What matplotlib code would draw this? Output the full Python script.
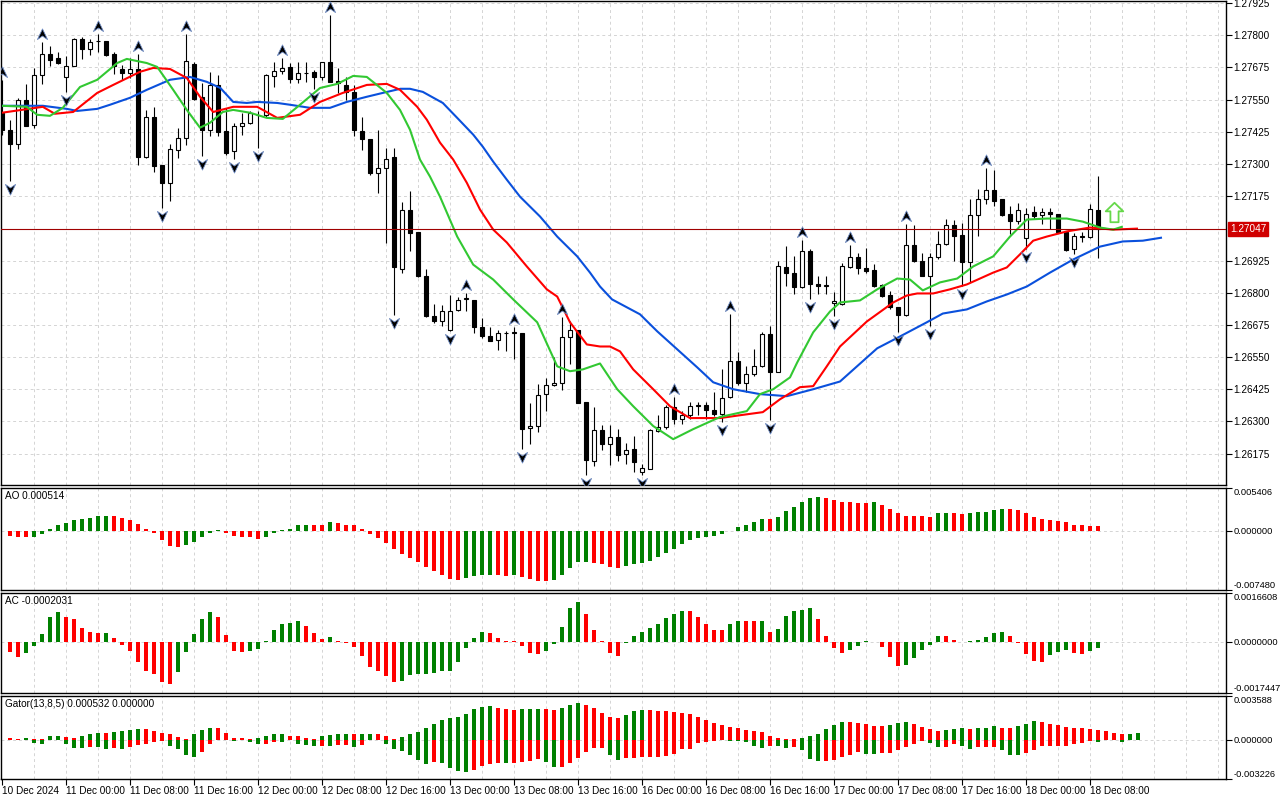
import matplotlib

matplotlib.use("Agg")

import matplotlib.pyplot as plt
import numpy as np
from matplotlib.path import Path
from matplotlib.transforms import offset_copy

plt.rcParams["font.family"] = ["Liberation Sans", "DejaVu Sans"]

# ---------------------------------------------------------------------------
# Datos (H1, 10 Dec 2024 16:00 .. 18 Dec 2024 09:00)
# ---------------------------------------------------------------------------

opens = [
    1.27499, 1.27433, 1.27377, 1.27549, 1.27451, 1.27644, 1.27727, 1.27710, 1.27636, 1.27681,
    1.27787, 1.27745, 1.27776, 1.27777, 1.27727, 1.27669, 1.27652, 1.27669, 1.27326, 1.27482,
    1.27295, 1.27226, 1.27355, 1.27400, 1.27688, 1.27562, 1.27433, 1.27607, 1.27429, 1.27349,
    1.27448, 1.27458, 1.27489, 1.27489, 1.27641, 1.27662, 1.27675, 1.27629, 1.27652, 1.27658,
    1.27636, 1.27696, 1.27622, 1.27607, 1.27581, 1.27429, 1.27397, 1.27265, 1.27284, 1.27327,
    1.26893, 1.27123, 1.27034, 1.26863, 1.26708, 1.26689, 1.26657, 1.26734, 1.26775, 1.26770,
    1.26666, 1.26631, 1.26615, 1.26643, 1.26645, 1.26644, 1.26274, 1.26283, 1.26408, 1.26440,
    1.26450, 1.26627, 1.26654, 1.26377, 1.26148, 1.26268, 1.26214, 1.26239, 1.26175, 1.26194,
    1.26104, 1.26117, 1.26262, 1.26278, 1.26355, 1.26310, 1.26323, 1.26360, 1.26362, 1.26345,
    1.26330, 1.26394, 1.26536, 1.26448, 1.26484, 1.26514, 1.26639, 1.26493, 1.26900, 1.26875,
    1.26823, 1.26961, 1.26835, 1.26827, 1.26759, 1.26756, 1.26898, 1.26940, 1.26895, 1.26888,
    1.26830, 1.26791, 1.26743, 1.26714, 1.26984, 1.26924, 1.26866, 1.26940, 1.26991, 1.27062,
    1.27023, 1.26920, 1.27100, 1.27162, 1.27197, 1.27162, 1.27104, 1.27078, 1.27012, 1.27113,
    1.27100, 1.27113, 1.27104, 1.27036, 1.26969, 1.27018, 1.27016, 1.27123,
]
highs = [
    1.27627, 1.27471, 1.27558, 1.27611, 1.27671, 1.27774, 1.27757, 1.27736, 1.27719, 1.27790,
    1.27794, 1.27787, 1.27806, 1.27779, 1.27736, 1.27684, 1.27710, 1.27727, 1.27510, 1.27520,
    1.27297, 1.27378, 1.27439, 1.27806, 1.27697, 1.27613, 1.27658, 1.27645, 1.27519, 1.27458,
    1.27497, 1.27504, 1.27504, 1.27649, 1.27697, 1.27710, 1.27693, 1.27697, 1.27697, 1.27665,
    1.27697, 1.27880, 1.27671, 1.27639, 1.27607, 1.27484, 1.27397, 1.27433, 1.27362, 1.27362,
    1.27153, 1.27196, 1.27037, 1.26891, 1.26756, 1.26751, 1.26790, 1.26782, 1.26799, 1.26773,
    1.26702, 1.26666, 1.26657, 1.26653, 1.26666, 1.26644, 1.26373, 1.26444, 1.26470, 1.26551,
    1.26705, 1.26690, 1.26657, 1.26377, 1.26356, 1.26287, 1.26287, 1.26271, 1.26217, 1.26243,
    1.26136, 1.26271, 1.26323, 1.26364, 1.26394, 1.26339, 1.26377, 1.26377, 1.26375, 1.26416,
    1.26504, 1.26716, 1.26571, 1.26516, 1.26581, 1.26648, 1.26669, 1.26922, 1.26980, 1.26944,
    1.27006, 1.26968, 1.26864, 1.26864, 1.26804, 1.26917, 1.26984, 1.26956, 1.26975, 1.26911,
    1.26833, 1.26808, 1.26746, 1.27065, 1.27062, 1.26956, 1.26956, 1.27040, 1.27085, 1.27082,
    1.27072, 1.27162, 1.27201, 1.27285, 1.27278, 1.27165, 1.27136, 1.27149, 1.27130, 1.27136,
    1.27130, 1.27130, 1.27104, 1.27036, 1.27031, 1.27036, 1.27143, 1.27255,
]
lows = [
    1.27414, 1.27233, 1.27358, 1.27446, 1.27439, 1.27609, 1.27680, 1.27687, 1.27581, 1.27679,
    1.27706, 1.27723, 1.27733, 1.27720, 1.27649, 1.27626, 1.27632, 1.27297, 1.27323, 1.27268,
    1.27130, 1.27156, 1.27323, 1.27372, 1.27549, 1.27330, 1.27407, 1.27407, 1.27336, 1.27319,
    1.27413, 1.27455, 1.27362, 1.27484, 1.27600, 1.27649, 1.27613, 1.27613, 1.27620, 1.27590,
    1.27626, 1.27620, 1.27574, 1.27549, 1.27407, 1.27355, 1.27259, 1.27188, 1.26994, 1.26715,
    1.26876, 1.26962, 1.26860, 1.26704, 1.26682, 1.26670, 1.26650, 1.26730, 1.26730, 1.26644,
    1.26624, 1.26612, 1.26579, 1.26575, 1.26541, 1.26193, 1.26212, 1.26257, 1.26341, 1.26438,
    1.26421, 1.26524, 1.26371, 1.26090, 1.26128, 1.26188, 1.26132, 1.26145, 1.26136, 1.26104,
    1.26091, 1.26117, 1.26259, 1.26269, 1.26291, 1.26291, 1.26310, 1.26323, 1.26310, 1.26320,
    1.26297, 1.26391, 1.26443, 1.26416, 1.26478, 1.26510, 1.26304, 1.26491, 1.26826, 1.26794,
    1.26819, 1.26774, 1.26794, 1.26794, 1.26711, 1.26753, 1.26894, 1.26872, 1.26876, 1.26824,
    1.26782, 1.26737, 1.26646, 1.26711, 1.26920, 1.26863, 1.26672, 1.26930, 1.26984, 1.26924,
    1.26827, 1.26840, 1.27020, 1.27143, 1.27136, 1.27098, 1.27027, 1.27065, 1.26970, 1.27085,
    1.27065, 1.27046, 1.27033, 1.26962, 1.26949, 1.26995, 1.27014, 1.26936,
]
closes = [
    1.27430, 1.27377, 1.27549, 1.27448, 1.27644, 1.27729, 1.27703, 1.27694, 1.27681, 1.27787,
    1.27745, 1.27772, 1.27778, 1.27723, 1.27681, 1.27652, 1.27669, 1.27326, 1.27482, 1.27291,
    1.27226, 1.27358, 1.27400, 1.27699, 1.27553, 1.27433, 1.27607, 1.27426, 1.27342, 1.27446,
    1.27458, 1.27497, 1.27491, 1.27644, 1.27661, 1.27674, 1.27629, 1.27652, 1.27653, 1.27636,
    1.27696, 1.27620, 1.27613, 1.27581, 1.27433, 1.27397, 1.27265, 1.27284, 1.27319, 1.26898,
    1.27121, 1.27031, 1.26863, 1.26708, 1.26689, 1.26730, 1.26730, 1.26770, 1.26778, 1.26666,
    1.26631, 1.26614, 1.26644, 1.26645, 1.26648, 1.26270, 1.26283, 1.26403, 1.26441, 1.26448,
    1.26627, 1.26654, 1.26371, 1.26150, 1.26266, 1.26211, 1.26239, 1.26168, 1.26190, 1.26143,
    1.26119, 1.26265, 1.26278, 1.26355, 1.26310, 1.26323, 1.26359, 1.26363, 1.26345, 1.26327,
    1.26390, 1.26536, 1.26448, 1.26484, 1.26516, 1.26639, 1.26491, 1.26903, 1.26875, 1.26823,
    1.26961, 1.26835, 1.26826, 1.26830, 1.26766, 1.26902, 1.26940, 1.26894, 1.26885, 1.26827,
    1.26788, 1.26743, 1.26714, 1.26984, 1.26924, 1.26866, 1.26940, 1.26991, 1.27062, 1.27020,
    1.26920, 1.27100, 1.27162, 1.27197, 1.27156, 1.27100, 1.27078, 1.27123, 1.27104, 1.27098,
    1.27113, 1.27104, 1.27036, 1.26965, 1.27020, 1.27020, 1.27126, 1.27047,
]

fractales_arriba = [0, 5, 12, 17, 23, 35, 41, 58, 64, 70, 84, 91, 100, 106, 113, 123]
fractales_abajo = [1, 8, 20, 25, 29, 32, 39, 49, 56, 65, 73, 80, 90, 96, 101, 104,
                   112, 116, 120, 128, 134]
senal_barra = 139
senal_precio = 1.27115
precio_actual = 1.27047

# Alligator (mandibula, dientes, labios), puntos leidos (barra, precio)
jaw_x = [0, 5.1, 8.1, 9.4, 11.9, 13.5, 16, 18.1, 21, 23.5, 25.6, 27.3, 28.9, 30.6, 31.9,
         34.4, 36, 38.5, 41, 43.1, 45.6, 47.6, 49.8, 51, 52.6, 55.1, 56.9, 58.9, 60.1, 61.4,
         63.1, 64.75, 67.25, 69.4, 71.9, 73.5, 74.75, 76.25, 79.75, 81.9, 84.4, 86.9, 88.9,
         91.4, 94.75, 98.1, 101.4, 104.75, 109.4, 112.25, 115.6, 117.6, 120.6, 123.1, 125.6,
         128.1, 131, 133.9, 137.25, 140.1, 142.6, 145]
jaw_y = [1.27526, 1.27526, 1.27514, 1.27506, 1.27514, 1.27530, 1.27557, 1.27588, 1.27627,
         1.27638, 1.27619, 1.27595, 1.27541, 1.27537, 1.27541, 1.27537, 1.27530, 1.27518,
         1.27518, 1.27541, 1.27561, 1.27576, 1.27592, 1.27592, 1.27580, 1.27537, 1.27479,
         1.27414, 1.27367, 1.27309, 1.27239, 1.27173, 1.27096, 1.27018, 1.26941, 1.26878,
         1.26824, 1.26774, 1.26716, 1.26650, 1.26580, 1.26510, 1.26452, 1.26425, 1.26406,
         1.26398, 1.26425, 1.26455, 1.26584, 1.26630, 1.26685, 1.26719, 1.26735, 1.26766,
         1.26793, 1.26824, 1.26878, 1.26929, 1.26979, 1.26999, 1.27002, 1.27014]

teeth_x = [0, 5.1, 6.6, 8.9, 11.9, 13.9, 17.25, 18.9, 21, 23.1, 24.75, 26.4, 28.9, 31.9,
           34.4, 37.25, 39.75, 42.6, 45.6, 48.1, 49.75, 51.9, 53.1, 54.75, 56.4, 58.1, 59.75,
           61.4, 63.1, 65.6, 68.1, 69.4, 71, 73.1, 74.75, 76, 77.25, 78.9, 81.4, 83.5, 86,
           89.75, 92.25, 95.1, 97.25, 99.75, 101.4, 103.1, 104.75, 108.1, 111.4, 113.1, 114.4,
           116.4, 118.5, 120.6, 123.9, 125.6, 127.25, 128.9, 130.6, 133.1, 136, 138.9, 142]
teeth_y = [1.27499, 1.27522, 1.27495, 1.27502, 1.27576, 1.27607, 1.27658, 1.27673, 1.27669,
           1.27634, 1.27561, 1.27502, 1.27522, 1.27522, 1.27479, 1.27491, 1.27541, 1.27576,
           1.27607, 1.27611, 1.27588, 1.27522, 1.27472, 1.27383, 1.27317, 1.27227, 1.27123,
           1.27045, 1.26995, 1.26902, 1.26813, 1.26785, 1.26685, 1.26599, 1.26591, 1.26591,
           1.26572, 1.26502, 1.26425, 1.26359, 1.26313, 1.26313, 1.26324, 1.26336, 1.26386,
           1.26433, 1.26437, 1.26514, 1.26591, 1.26688, 1.26762, 1.26789, 1.26797, 1.26797,
           1.26813, 1.26832, 1.26878, 1.26898, 1.26949, 1.27002, 1.27018, 1.27038, 1.27053,
           1.27045, 1.27049]

lips_x = [0, 3.1, 4.4, 6, 7.6, 9.75, 11.9, 14.4, 15.6, 18.1, 19.4, 21.4, 23.1, 24.75, 26,
          27.6, 28.9, 31, 33.1, 35.1, 37.25, 39.75, 41.9, 43.9, 45.6, 48.1, 49.75, 51, 52.25,
          53.5, 54.75, 56.9, 58.9, 61.4, 63.9, 66.9, 69.4, 71, 72.6, 74.75, 76.9, 78.9, 81.4,
          83.9, 86.4, 89.75, 93.1, 94.75, 96.4, 98.5, 99.4, 101.4, 103.5, 104.75, 107.25,
          109.4, 111.9, 113.5, 115.1, 117.25, 119.4, 121.4, 123.9, 126, 128.1, 130.6, 133.1,
          135.1, 137.25, 138.9, 140.1]
lips_y = [1.27526, 1.27522, 1.27491, 1.27487, 1.27518, 1.27599, 1.27627, 1.27692, 1.27708,
          1.27692, 1.27677, 1.27588, 1.27510, 1.27441, 1.27460, 1.27502, 1.27510, 1.27499,
          1.27479, 1.27475, 1.27530, 1.27595, 1.27611, 1.27642, 1.27638, 1.27576, 1.27510,
          1.27433, 1.27317, 1.27251, 1.27173, 1.27018, 1.26909, 1.26851, 1.26774, 1.26685,
          1.26514, 1.26495, 1.26502, 1.26525, 1.26425, 1.26359, 1.26282, 1.26231, 1.26270,
          1.26317, 1.26340, 1.26406, 1.26425, 1.26471, 1.26529, 1.26646, 1.26727, 1.26762,
          1.26770, 1.26813, 1.26855, 1.26851, 1.26809, 1.26840, 1.26855, 1.26902, 1.26941,
          1.27018, 1.27084, 1.27088, 1.27088, 1.27076, 1.27053, 1.27045, 1.27057]

# Awesome Oscillator, barras 1..137
ao_valores = [
    -0.00063, -0.00083, -0.00084, -0.00078, -0.00050, 0.00021, 0.00075, 0.00100, 0.00133, 0.00150,
    0.00152, 0.00179, 0.00188, 0.00185, 0.00163, 0.00133, 0.00083, 0.00021, -0.00033, -0.00125,
    -0.00196, -0.00209, -0.00188, -0.00146, -0.00083, -0.00033, 0.00004, -0.00033, -0.00071, -0.00083,
    -0.00084, -0.00113, -0.00083, -0.00033, 0.00004, 0.00025, 0.00063, 0.00075, 0.00074, 0.00073,
    0.00104, 0.00092, 0.00075, 0.00063, 0.00021, -0.00050, -0.00096, -0.00159, -0.00238, -0.00300,
    -0.00350, -0.00396, -0.00459, -0.00513, -0.00563, -0.00613, -0.00626, -0.00596, -0.00576, -0.00563,
    -0.00560, -0.00565, -0.00567, -0.00562, -0.00588, -0.00613, -0.00638, -0.00640, -0.00626, -0.00563,
    -0.00471, -0.00396, -0.00392, -0.00404, -0.00425, -0.00459, -0.00471, -0.00446, -0.00425, -0.00409,
    -0.00379, -0.00334, -0.00284, -0.00229, -0.00171, -0.00117, -0.00092, -0.00083, -0.00071, -0.00046,
    -0.00008, 0.00038, 0.00071, 0.00104, 0.00142, 0.00141, 0.00175, 0.00250, 0.00300, 0.00354,
    0.00413, 0.00425, 0.00404, 0.00384, 0.00354, 0.00353, 0.00352, 0.00351, 0.00354, 0.00325,
    0.00275, 0.00225, 0.00188, 0.00187, 0.00186, 0.00175, 0.00217, 0.00218, 0.00216, 0.00204,
    0.00217, 0.00229, 0.00238, 0.00254, 0.00275, 0.00274, 0.00254, 0.00217, 0.00175, 0.00150,
    0.00138, 0.00125, 0.00113, 0.00075, 0.00063, 0.00054, 0.000514,
]
ao_colores = ("rrr" "gggggggggg" "rrrrrrrrr" "ggggg" "rrrrr" "gggggg" "rr" "g"
              "rrrrrrrrrrrrrrrr" "gggg" "rr" "g" "rrrr" "ggggg" "rrrr"
              "gggggggggggggggggg" "r" "gggggg" "rrrrrr" "g" "rrrrrrr" "gg" "rr"
              "ggggg" "rrrrrrrrrrrr")

# Accelerator Oscillator, barras 1..137
ac_valores = [
    -0.000361, -0.000530, -0.000395, -0.000158, 0.000259, 0.000846, 0.001015, 0.000846, 0.000790, 0.000485,
    0.000338, 0.000282, 0.000305, 0.000135, -0.000113, -0.000305, -0.000677, -0.000981, -0.001094, -0.001376,
    -0.001433, -0.001038, -0.000361, 0.000259, 0.000790, 0.001015, 0.000846, 0.000237, -0.000305, -0.000361,
    -0.000327, -0.000248, 0.000034, 0.000406, 0.000598, 0.000632, 0.000711, 0.000541, 0.000305, 0.000090,
    0.000169, 0.000023, -0.000045, -0.000192, -0.000474, -0.000869, -0.001004, -0.001173, -0.001376, -0.001342,
    -0.001128, -0.001105, -0.001100, -0.001060, -0.001004, -0.001000, -0.000699, -0.000226, 0.000135, 0.000316,
    0.000282, 0.000135, 0.000023, 0.000011, -0.000158, -0.000395, -0.000400, -0.000327, -0.000068, 0.000508,
    0.001151, 0.001354, 0.000948, 0.000406, 0.000011, -0.000395, -0.000474, -0.000045, 0.000203, 0.000338,
    0.000474, 0.000609, 0.000812, 0.000948, 0.001049, 0.001045, 0.000846, 0.000609, 0.000406, 0.000400,
    0.000609, 0.000711, 0.000705, 0.000700, 0.000710, 0.000338, 0.000440, 0.000880, 0.001049, 0.001083,
    0.001151, 0.000778, 0.000203, -0.000203, -0.000395, -0.000293, -0.000158, 0.000023, -0.000023, -0.000192,
    -0.000530, -0.000835, -0.000801, -0.000564, -0.000293, -0.000124, 0.000203, 0.000200, 0.000068, -0.000023,
    0.000034, 0.000068, 0.000169, 0.000282, 0.000338, 0.000203, -0.000045, -0.000429, -0.000654, -0.000677,
    -0.000462, -0.000361, -0.000293, -0.000395, -0.000429, -0.000327, -0.0002031,
]
ac_colores = ("rr" "ggggg" "rrrrr" "g" "rrrrrrrr" "ggggg" "rrrr" "ggggggg" "rrr" "g"
              "rrrrrrrr" "ggggggggggg" "rrrrrrr" "ggggg" "rrrrr" "gggggggg" "rrrrr" "gg"
              "rr" "g" "r" "ggggg" "rrrr" "ggg" "rrrr" "ggggg" "rrr" "ggggg" "rrrrr" "ggg"
              "rr" "gg")

# Gator Oscillator, parte superior barras 1..142 y parte inferior barras 1..140
gator_arriba = [
    0.000135, 0.000054, 0.000108, 0.00003, 0.00002, 0.00027, 0.00028, 0.00026, 0.00010, 0.00027,
    0.00043, 0.00059, 0.00058, 0.00060, 0.00070, 0.00076, 0.00088, 0.00086, 0.00070, 0.00059,
    0.00043, 0.00019, 0.00008, 0.00043, 0.00081, 0.00097, 0.00095, 0.00059, 0.00016, 0.00011,
    0.00005, 0.00016, 0.00027, 0.00043, 0.00045, 0.00032, 0.00030, 0.00016, 0.00005, 0.00027,
    0.00035, 0.00043, 0.00044, 0.00043, 0.00044, 0.00049, 0.00043, 0.00032, 0.00008, 0.00020,
    0.00046, 0.00065, 0.00100, 0.00132, 0.00162, 0.00181, 0.00189, 0.00211, 0.00251, 0.00270,
    0.00279, 0.00262, 0.00254, 0.00246, 0.00254, 0.00255, 0.00256, 0.00254, 0.00246, 0.00262,
    0.00287, 0.00303, 0.00287, 0.00262, 0.00222, 0.00189, 0.00181, 0.00206, 0.00235, 0.00246,
    0.00245, 0.00238, 0.00235, 0.00227, 0.00222, 0.00211, 0.00189, 0.00165, 0.00141, 0.00124,
    0.00108, 0.00097, 0.00081, 0.00073, 0.00065, 0.00032, 0.00011, 0.00005, 0.00004, 0.00016,
    0.00032, 0.00043, 0.00084, 0.00124, 0.00149, 0.00148, 0.00138, 0.00130, 0.00116, 0.00115,
    0.00124, 0.00141, 0.00142, 0.00130, 0.00108, 0.00089, 0.00068, 0.00076, 0.00089, 0.00100,
    0.00089, 0.00092, 0.00100, 0.00116, 0.00100, 0.00099, 0.00116, 0.00132, 0.00154, 0.00146,
    0.00132, 0.00124, 0.00108, 0.00097, 0.00092, 0.00087, 0.00078, 0.00068, 0.00051, 0.00043,
    0.00049, 0.000532,
]
gator_arriba_colores = ("rrgrrggr" "r" "ggg" "r" "gggg" "rrrrrr" "ggg" "rrrrr" "gggg" "rrrr"
                        "gggg" "r" "gg" "rrr" "gggggggggggg" "rrr" "ggg" "rr" "ggg" "rrrrr"
                        "ggg" "rrrrrrrrrrrrrrrrrrr" "gggggg" "rrrrr" "ggg" "rrrr" "ggg" "r"
                        "ggg" "rr" "ggg" "rrrrrrrrrrr" "gg")
gator_abajo = [
    -0.00002, -0.00002, -0.00002, -0.00027, -0.00032, -0.00005, -0.00005, -0.00032, -0.00068, -0.00069,
    -0.00059, -0.00060, -0.00073, -0.00072, -0.00073, -0.00059, -0.00046, -0.00032, -0.00019, -0.00011,
    -0.00051, -0.00073, -0.00127, -0.00141, -0.00100, -0.00038, -0.00002, -0.00005, -0.00008, -0.00003,
    -0.00019, -0.00038, -0.00036, -0.00016, -0.00019, -0.00003, -0.00038, -0.00046, -0.00054, -0.00053,
    -0.00055, -0.00046, -0.00045, -0.00059, -0.00046, -0.00005, -0.00003, -0.00038, -0.00073, -0.00092,
    -0.00124, -0.00170, -0.00197, -0.00184, -0.00192, -0.00233, -0.00257, -0.00265, -0.00246, -0.00219,
    -0.00200, -0.00192, -0.00194, -0.00192, -0.00184, -0.00176, -0.00160, -0.00184, -0.00224, -0.00223,
    -0.00192, -0.00151, -0.00103, -0.00070, -0.00070, -0.00127, -0.00168, -0.00151, -0.00151, -0.00143,
    -0.00143, -0.00143, -0.00130, -0.00119, -0.00078, -0.00078, -0.00030, -0.00022, -0.00011, -0.00005,
    -0.00007, -0.00014, -0.00015, -0.00049, -0.00070, -0.00054, -0.00055, -0.00070, -0.00062, -0.00087,
    -0.00160, -0.00176, -0.00175, -0.00170, -0.00146, -0.00127, -0.00103, -0.00119, -0.00120, -0.00111,
    -0.00110, -0.00087, -0.00062, -0.00035, -0.00014, -0.00030, -0.00062, -0.00061, -0.00038, -0.00054,
    -0.00078, -0.00062, -0.00061, -0.00060, -0.00087, -0.00127, -0.00128, -0.00111, -0.00087, -0.00054,
    -0.00053, -0.00052, -0.00051, -0.00038, -0.00030, -0.00011, -0.00016, -0.00005, -0.00005, -0.00022,
]
gator_abajo_colores = ("rrrggrrgggr" "ggr" "g" "rrrrr" "gggg" "rrr" "gg" "r" "gg" "rr" "g" "r"
                       "ggg" "r" "g" "rr" "g" "rrr" "gggggg" "r" "gggg" "rrrr" "g" "rrrr" "gg"
                       "rrrrrr" "gg" "rrrrrrrrrrrrr" "ggggg" "r" "gg" "r" "ggg" "rrrrr" "gg"
                       "rrrrrr" "gg" "rr" "gg" "rrr" "ggg" "rrrrrrrrr" "g" "rr" "g")

etiquetas_tiempo = ["10 Dec 2024", "11 Dec 00:00", "11 Dec 08:00", "11 Dec 16:00",
                    "12 Dec 00:00", "12 Dec 08:00", "12 Dec 16:00", "13 Dec 00:00",
                    "13 Dec 08:00", "13 Dec 16:00", "16 Dec 00:00", "16 Dec 08:00",
                    "16 Dec 16:00", "17 Dec 00:00", "17 Dec 08:00", "17 Dec 16:00",
                    "18 Dec 00:00", "18 Dec 08:00"]
precios_eje = [1.26175, 1.26300, 1.26425, 1.26550, 1.26675, 1.26800, 1.26925,
               1.27175, 1.27300, 1.27425, 1.27550, 1.27675, 1.27800, 1.27925]

ao_rango = (-0.007480, 0.005406)
ac_rango = (-0.0017447, 0.0016608)
gator_rango = (-0.003226, 0.003588)

# ---------------------------------------------------------------------------
# Estilo
# ---------------------------------------------------------------------------

VERDE = "#008000"
ROJO = "#ff0000"
GRILLA = "#d4d4d4"
COLORES = {"g": VERDE, "r": ROJO}
FUENTE = 7.2
FUENTE_SUB = 6.7
X_MIN, X_MAX = -0.125, 153.0

figura = plt.figure(figsize=(12.8, 8), dpi=100)


def _eje(top_px, bottom_px):
    izquierda = 1 / 1280
    ancho = 1225 / 1280
    return figura.add_axes([izquierda, 1 - bottom_px / 800, ancho, (bottom_px - top_px) / 800])


def _preparar(eje, tam):
    eje.set_xlim(X_MIN, X_MAX)
    for b in range(4, 153, 4):
        eje.axvline(b, color=GRILLA, lw=0.7, ls=(0, (3, 3)), zorder=0)
    for s in eje.spines.values():
        s.set_color("black")
        s.set_linewidth(1.0)
    eje.yaxis.tick_right()
    eje.tick_params(axis="y", direction="out", length=4, width=0.8, pad=1.5,
                    labelsize=tam, colors="black")
    eje.tick_params(axis="x", bottom=False, labelbottom=False)


def _titulo(eje, texto):
    eje.annotate(texto, xy=(0, 1), xycoords="axes fraction", xytext=(4, -3),
                 textcoords="offset pixels", ha="left", va="top", fontsize=FUENTE)


# ---------------------------------------------------------------------------
# Panel de precio
# ---------------------------------------------------------------------------

eje_p = _eje(1, 485)
_preparar(eje_p, FUENTE)
eje_p.set_ylim(1.26053, 1.27933)
for p in precios_eje:
    eje_p.axhline(p, color=GRILLA, lw=0.7, ls=(0, (3, 3)), zorder=0)
eje_p.set_yticks(precios_eje)
eje_p.set_yticklabels([f"{p:.5f}" for p in precios_eje])

n = len(opens)
x = np.arange(n)
o = np.array(opens)
h = np.array(highs)
l = np.array(lows)
c = np.array(closes)

eje_p.vlines(x, l, h, color="black", lw=0.8, zorder=2)
cuerpo_bajo = np.minimum(o, c)
cuerpo_alto = np.maximum(o, c)
alcistas = c >= o
eje_p.bar(x[alcistas], (cuerpo_alto - cuerpo_bajo)[alcistas], bottom=cuerpo_bajo[alcistas],
          width=0.52, facecolor="white", edgecolor="black", lw=0.8, zorder=2.5)
eje_p.bar(x[~alcistas], (cuerpo_alto - cuerpo_bajo)[~alcistas], bottom=cuerpo_bajo[~alcistas],
          width=0.52, facecolor="black", edgecolor="black", lw=0.8, zorder=2.5)

eje_p.plot(jaw_x, jaw_y, color="#0a50dc", lw=1.5, zorder=3, solid_capstyle="butt")
eje_p.plot(teeth_x, teeth_y, color="#ff0000", lw=1.5, zorder=3.1, solid_capstyle="butt")
eje_p.plot(lips_x, lips_y, color="#32c832", lw=1.5, zorder=3.2, solid_capstyle="butt")

# Fractales
punta = Path([(0, 0.55), (0.5, -0.5), (0, -0.15), (-0.5, -0.5), (0, 0.55)],
             [Path.MOVETO, Path.LINETO, Path.LINETO, Path.LINETO, Path.CLOSEPOLY])
punta_abajo = Path([(0, -0.55), (0.5, 0.5), (0, 0.15), (-0.5, 0.5), (0, -0.55)],
                   [Path.MOVETO, Path.LINETO, Path.LINETO, Path.LINETO, Path.CLOSEPOLY])
arriba_tr = offset_copy(eje_p.transData, fig=figura, y=8, units="dots")
abajo_tr = offset_copy(eje_p.transData, fig=figura, y=-8, units="dots")
eje_p.plot(fractales_arriba, [highs[i] for i in fractales_arriba], ls="none",
           marker=punta, markersize=8, markerfacecolor="black", markeredgecolor="#6b88c0",
           markeredgewidth=0.6, transform=arriba_tr, zorder=4)
eje_p.plot(fractales_abajo, [lows[i] for i in fractales_abajo], ls="none",
           marker=punta_abajo, markersize=8, markerfacecolor="black", markeredgecolor="#6b88c0",
           markeredgewidth=0.6, transform=abajo_tr, zorder=4)

# Flecha de senal
flecha = Path([(0, 1), (0.9, 0.12), (0.42, 0.12), (0.42, -1), (-0.42, -1), (-0.42, 0.12),
               (-0.9, 0.12), (0, 1)],
              [Path.MOVETO] + [Path.LINETO] * 6 + [Path.CLOSEPOLY])
eje_p.plot([senal_barra], [senal_precio], ls="none", marker=flecha, markersize=14,
           markerfacecolor="white", markeredgecolor="#66d84a", markeredgewidth=1.3, zorder=4)

# Linea de precio actual
eje_p.axhline(precio_actual, color="#a00000", lw=0.8, zorder=3.5)
eje_p.annotate(f"{precio_actual:.5f}", xy=(1, precio_actual),
               xycoords=("axes fraction", "data"), xytext=(4, 0), textcoords="offset pixels",
               ha="left", va="center", color="white", fontsize=FUENTE,
               bbox=dict(boxstyle="square,pad=0.18", fc="#d00000", ec="#d00000"),
               annotation_clip=False)


# ---------------------------------------------------------------------------
# Subventanas
# ---------------------------------------------------------------------------

def _histograma(eje, inicio, valores, colores):
    xs = np.arange(inicio, inicio + len(valores))
    eje.bar(xs, valores, width=0.5, color=[COLORES[k] for k in colores], lw=0, zorder=2)


def _escala(eje, rango, formato):
    eje.set_ylim(*rango)
    eje.axhline(0, color=GRILLA, lw=0.7, ls=(0, (3, 3)), zorder=1)
    eje.set_yticks([rango[0], 0, rango[1]])
    eje.set_yticklabels([formato.format(rango[0]), formato.format(0.0), formato.format(rango[1])])
    etiquetas = eje.get_yticklabels()
    etiquetas[0].set_va("bottom")
    etiquetas[2].set_va("top")


eje_ao = _eje(487.5, 590)
_preparar(eje_ao, FUENTE_SUB)
_histograma(eje_ao, 1, ao_valores, ao_colores)
_escala(eje_ao, ao_rango, "{:.6f}")
_titulo(eje_ao, f"AO {ao_valores[-1]:.6f}")

eje_ac = _eje(593, 693)
_preparar(eje_ac, FUENTE_SUB)
_histograma(eje_ac, 1, ac_valores, ac_colores)
_escala(eje_ac, ac_rango, "{:.7f}")
_titulo(eje_ac, f"AC {ac_valores[-1]:.7f}")

eje_g = _eje(696, 779)
_preparar(eje_g, FUENTE_SUB)
_histograma(eje_g, 1, gator_arriba, gator_arriba_colores)
_histograma(eje_g, 1, gator_abajo, gator_abajo_colores)
_escala(eje_g, gator_rango, "{:.6f}")
_titulo(eje_g, f"Gator(13,8,5) {gator_arriba[-1]:.6f} 0.000000")

# Eje de tiempo
eje_g.tick_params(axis="x", bottom=True, labelbottom=True, direction="out", length=4,
                  width=0.8, pad=1, labelsize=FUENTE)
eje_g.set_xticks(list(range(0, 8 * len(etiquetas_tiempo), 8)))
eje_g.set_xticklabels(etiquetas_tiempo, ha="left")

figura.savefig("out.png", dpi=100, facecolor="white")
plt.close(figura)
